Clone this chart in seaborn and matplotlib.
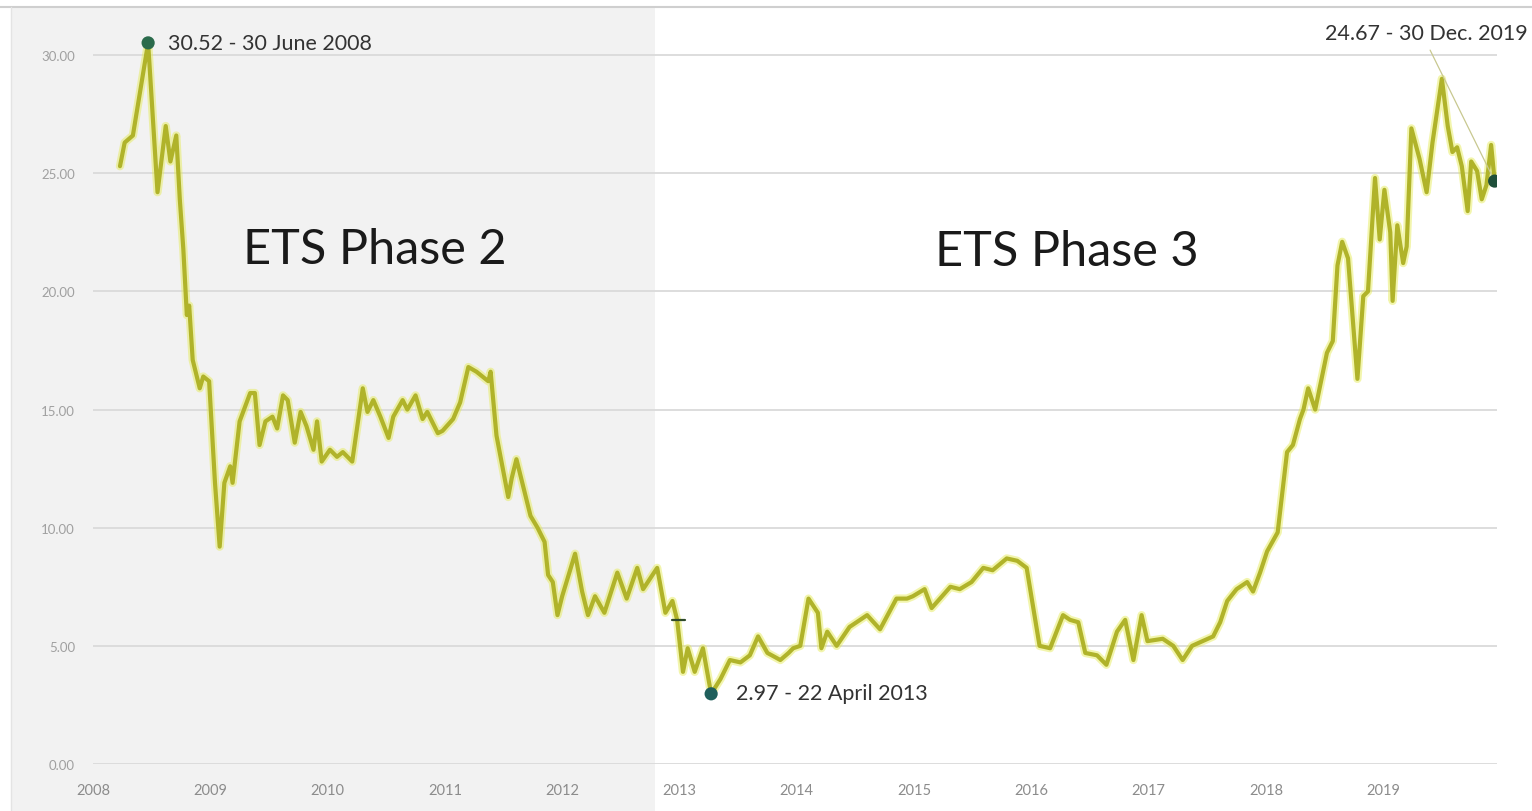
import numpy as np
import pandas as pd
import seaborn as sns
import matplotlib
matplotlib.use("Agg")
import matplotlib.pyplot as plt
from matplotlib.patches import Rectangle
from matplotlib.lines import Line2D

# EUA price trace (year fraction, EUR/t)
years = [2008.23, 2008.27, 2008.34, 2008.47, 2008.55, 2008.62, 2008.66, 2008.71, 2008.74, 2008.77,
         2008.80, 2008.82, 2008.85, 2008.91, 2008.94, 2008.99, 2009.04, 2009.08, 2009.12, 2009.17,
         2009.19, 2009.25, 2009.34, 2009.38, 2009.42, 2009.47, 2009.53, 2009.57, 2009.62, 2009.66,
         2009.72, 2009.77, 2009.82, 2009.88, 2009.91, 2009.95, 2010.02, 2010.08, 2010.13, 2010.21,
         2010.30, 2010.34, 2010.39, 2010.45, 2010.52, 2010.56, 2010.64, 2010.68, 2010.75, 2010.81,
         2010.85, 2010.94, 2010.98, 2011.07, 2011.13, 2011.20, 2011.27, 2011.32, 2011.37, 2011.39,
         2011.44, 2011.49, 2011.54, 2011.57, 2011.61, 2011.66, 2011.73, 2011.79, 2011.85, 2011.88,
         2011.92, 2011.96, 2012.00, 2012.11, 2012.17, 2012.22, 2012.28, 2012.36, 2012.47, 2012.55,
         2012.64, 2012.69, 2012.81, 2012.88, 2012.94, 2012.98, 2013.03, 2013.07, 2013.13, 2013.20,
         2013.27, 2013.35, 2013.43, 2013.52, 2013.60, 2013.67, 2013.75, 2013.86, 2013.93, 2013.97,
         2014.03, 2014.10, 2014.18, 2014.21, 2014.26, 2014.34, 2014.45, 2014.60, 2014.71, 2014.85,
         2014.94, 2014.99, 2015.09, 2015.15, 2015.31, 2015.39, 2015.49, 2015.59, 2015.67, 2015.79,
         2015.88, 2015.96, 2016.07, 2016.16, 2016.27, 2016.33, 2016.40, 2016.46, 2016.56, 2016.64,
         2016.73, 2016.80, 2016.87, 2016.94, 2016.99, 2017.12, 2017.21, 2017.29, 2017.37, 2017.46,
         2017.55, 2017.61, 2017.67, 2017.75, 2017.84, 2017.89, 2017.95, 2018.01, 2018.10, 2018.18,
         2018.23, 2018.29, 2018.32, 2018.36, 2018.42, 2018.52, 2018.57, 2018.61, 2018.65, 2018.70,
         2018.78, 2018.83, 2018.87, 2018.93, 2018.97, 2019.01, 2019.06, 2019.08, 2019.12, 2019.17,
         2019.20, 2019.24, 2019.31, 2019.37, 2019.42, 2019.50, 2019.55, 2019.59, 2019.63, 2019.67,
         2019.72, 2019.75, 2019.80, 2019.84, 2019.88, 2019.92, 2019.95]
prices = [25.3, 26.3, 26.6, 30.52, 24.2, 27.0, 25.5, 26.6, 23.9, 21.8,
          19.0, 19.4, 17.1, 15.9, 16.4, 16.2, 11.9, 9.2, 11.9, 12.6,
          11.9, 14.5, 15.7, 15.7, 13.5, 14.5, 14.7, 14.2, 15.6, 15.4,
          13.6, 14.9, 14.3, 13.3, 14.5, 12.8, 13.3, 13.0, 13.2, 12.8,
          15.9, 14.9, 15.4, 14.7, 13.8, 14.7, 15.4, 15.0, 15.6, 14.6,
          14.9, 14.0, 14.1, 14.6, 15.3, 16.8, 16.6, 16.4, 16.2, 16.6,
          13.9, 12.6, 11.3, 12.1, 12.9, 11.9, 10.5, 10.0, 9.4, 8.0,
          7.7, 6.3, 7.1, 8.9, 7.3, 6.3, 7.1, 6.4, 8.1, 7.0,
          8.3, 7.4, 8.3, 6.4, 6.9, 6.1, 3.9, 4.9, 3.9, 4.9,
          2.97, 3.6, 4.4, 4.3, 4.6, 5.4, 4.7, 4.4, 4.7, 4.9,
          5.0, 7.0, 6.4, 4.9, 5.6, 5.0, 5.8, 6.3, 5.7, 7.0,
          7.0, 7.1, 7.4, 6.6, 7.5, 7.4, 7.7, 8.3, 8.2, 8.7,
          8.6, 8.3, 5.0, 4.9, 6.3, 6.1, 6.0, 4.7, 4.6, 4.2,
          5.6, 6.1, 4.4, 6.3, 5.2, 5.3, 5.0, 4.4, 5.0, 5.2,
          5.4, 6.0, 6.9, 7.4, 7.7, 7.3, 8.1, 9.0, 9.8, 13.2,
          13.5, 14.6, 15.0, 15.9, 15.0, 17.4, 17.9, 21.1, 22.1, 21.4,
          16.3, 19.8, 20.0, 24.8, 22.2, 24.3, 22.5, 19.6, 22.8, 21.2,
          21.9, 26.9, 25.6, 24.2, 26.3, 29.0, 27.0, 25.9, 26.1, 25.3,
          23.4, 25.5, 25.1, 23.9, 24.5, 26.2, 24.67]

# highlighted points: (x, y, label)
high_pt = (2008.47, 30.52, "30.52 - 30 June 2008")
low_pt = (2013.27, 2.97, "2.97 - 22 April 2013")
last_pt = (2019.95, 24.67, "24.67 - 30 Dec. 2019")

year_ticks = list(range(2008, 2020))
price_ticks = [0, 5, 10, 15, 20, 25, 30]
phase2_end = 2012.79
dash_x = [2012.94, 2013.05]
dash_y = [6.1, 6.1]

df = pd.DataFrame({"year": years, "price": prices})

sns.set_style("white")
plt.rcParams["font.family"] = ["Lato", "DejaVu Sans"]

W, H = 1532, 812
fig = plt.figure(figsize=(W / 100, H / 100), dpi=100)
ax = fig.add_axes([93 / W, 47 / H, (1497 - 93) / W, (765 - 20) / H])
ax.set_facecolor("none")

# soft halo + main line
sns.lineplot(data=df, x="year", y="price", ax=ax, color="#e4ea4a", linewidth=6, alpha=0.45)
sns.lineplot(data=df, x="year", y="price", ax=ax, color="#b0b32a", linewidth=3.0)
ax.plot(dash_x, dash_y, color="#2f4a2a", linewidth=1.6)

ax.set_xlim(2008, 2019.97)
ax.set_ylim(0, 31.53)
ax.set_xticks(year_ticks)
ax.set_xticklabels([str(y) for y in year_ticks])
ax.set_yticks(price_ticks)
ax.set_yticklabels([f"{v:.2f}" for v in price_ticks])
ax.tick_params(axis="x", length=0, pad=14, labelsize=10.5, labelcolor="#8c8c8c")
ax.tick_params(axis="y", length=0, pad=13, labelsize=9.5, labelcolor="#a0a0a0")
ax.set_xlabel("")
ax.set_ylabel("")
ax.grid(axis="y", color="#dadada", linewidth=1.3)
ax.grid(axis="x", visible=False)
sns.despine(ax=ax, left=True, bottom=True)

# markers + annotations
for (px, py, lab), col, off in [(high_pt, "#2b6b4c", (20, 0)), (low_pt, "#1f5f5c", (25, 1))]:
    ax.scatter([px], [py], s=90, color=col, zorder=5, edgecolors="none")
    ax.annotate(lab, xy=(px, py), xytext=off, textcoords="offset pixels",
                va="center", ha="left", fontsize=15.5, color="#333333")
ax.scatter([last_pt[0]], [last_pt[1]], s=90, color="#1f4f3a", zorder=5, edgecolors="none")
ax.annotate(last_pt[2], xy=(last_pt[0], last_pt[1]), xytext=(-68, 148),
            textcoords="offset pixels", va="center", ha="center", fontsize=15.5, color="#333333",
            arrowprops=dict(arrowstyle="-", color="#c8c890", lw=0.9, relpos=(0.5, 0),
                            shrinkA=3, shrinkB=4), annotation_clip=False)

ax.text(2010.4, 21.8, "ETS Phase 2", ha="center", va="center", fontsize=35, color="#1a1a1a")
ax.text(2016.3, 21.7, "ETS Phase 3", ha="center", va="center", fontsize=35, color="#1a1a1a")

# phase 2 background band, runs over the whole figure height
fig.canvas.draw()
x_end = ax.transData.transform((phase2_end, 0))[0] / W
fig.patches.append(Rectangle((11 / W, 0), x_end - 11 / W, (H - 8) / H,
                             transform=fig.transFigure, facecolor="#f2f2f2",
                             edgecolor="none", zorder=-2))
fig.lines.append(Line2D([0, 1], [(H - 8) / H, (H - 8) / H], transform=fig.transFigure,
                        color="#cfcfcf", linewidth=1.5, zorder=-1))
fig.lines.append(Line2D([11 / W, 11 / W], [0, (H - 8) / H], transform=fig.transFigure,
                        color="#e4e4e4", linewidth=1.0, zorder=-1))

fig.savefig("out.png", dpi=100, facecolor="white")
